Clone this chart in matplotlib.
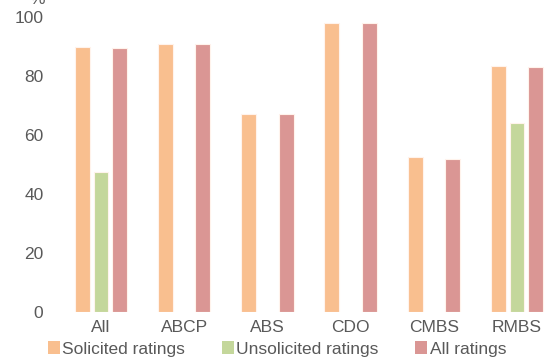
import matplotlib
matplotlib.use("Agg")
import matplotlib.pyplot as plt
import numpy as np
from matplotlib.patches import Patch

categories = ["All", "ABCP", "ABS", "CDO", "CMBS", "RMBS"]
solicited = [89.7, 90.8, 67.0, 98.1, 52.6, 83.4]
unsolicited = [47.4, None, None, None, None, 64.2]
all_ratings = [89.6, 90.8, 67.0, 98.1, 51.8, 83.2]
series_names = ["Solicited ratings", "Unsolicited ratings", "All ratings"]
colors = ["#F9BF8F", "#C4D79B", "#DA9694"]
yticks = [0, 20, 40, 60, 80, 100]

plt.rcParams['font.family'] = ['Liberation Sans', 'DejaVu Sans']
fig = plt.figure(figsize=(5.47, 3.60), dpi=100)
ax = fig.add_axes([59.4/547, 48/360, 499.2/547, 295/360])

x = np.arange(len(categories))
w = 0.18
off = 0.224
for i, (vals, c) in enumerate(zip([solicited, unsolicited, all_ratings], colors)):
    xs = [xi + (i - 1) * off for xi, v in zip(x, vals) if v is not None]
    vs = [v for v in vals if v is not None]
    ax.bar(xs, vs, width=w, color=c, edgecolor="#FFF3EC", linewidth=0.8, label=series_names[i])

ax.set_xlim(-0.5, len(categories) - 0.5)
ax.set_ylim(0, 100)
ax.set_yticks(yticks)
ax.set_xticks(x)
ax.set_xticklabels(categories)
for s in ax.spines.values():
    s.set_visible(False)
ax.tick_params(axis='y', length=0, pad=11.5, labelsize=12.5, labelcolor="#595959")
ax.tick_params(axis='x', length=0, pad=5.5, labelsize=12.5, labelcolor="#595959")

# partially visible unit label at the top edge, as in the reference
fig.text(37/547, 1 - 4/360, "%", ha="center", va="baseline", fontsize=12.5, color="#595959")

handles = [Patch(facecolor=c, edgecolor="none") for c in colors]
fig.legend(handles, series_names, loc="center", bbox_to_anchor=(277/547, 1 - 349/360),
           ncol=3, frameon=False, fontsize=12.5, labelcolor="#595959",
           handlelength=0.7, handleheight=0.7, handletextpad=0.15, columnspacing=2.1,
           borderaxespad=0, borderpad=0)

fig.savefig("out.png", dpi=100)
